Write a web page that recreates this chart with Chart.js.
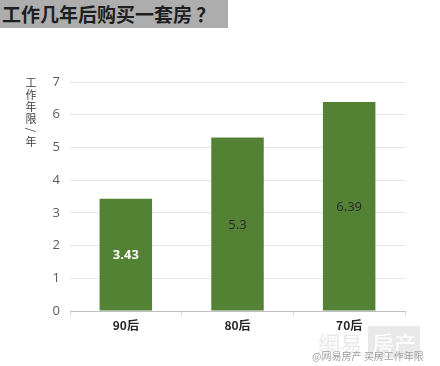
<!DOCTYPE html>
<html>
<head>
<meta charset="utf-8">
<script src="https://cdn.jsdelivr.net/npm/chart.js@4"></script>
<style>
  html, body { margin: 0; padding: 0; background: #fff; }
  #wrap { position: relative; width: 440px; height: 366px; }
  #title {
    position: absolute; left: 0; top: 0; width: 228px; height: 28px;
    background: #adadad; color: #1f1f1f;
    font: bold 19px "Noto Sans CJK SC", sans-serif; line-height: 28px;
    padding-left: 2px; box-sizing: border-box; white-space: nowrap;
  }
  #mark {
    position: absolute; left: 318px; top: 326px;
    font: 22px "Noto Sans CJK TC", sans-serif; color: rgba(200,200,200,0.4);
  }
  #mark span { background: rgba(200,200,200,0.4); color: #fff; padding: 0 4px; margin-left: 6px; }
  #weibo {
    position: absolute; left: 312px; top: 348px;
    font: 10px "Noto Sans CJK SC", sans-serif; color: #a0a0a0; white-space: nowrap;
  }
</style>
</head>
<body>
<div id="wrap">
  <canvas id="chart" width="440" height="366"></canvas>
  <div id="title">工作几年后购买一套房 ？</div>
  <div id="mark">網易<span>房产</span></div>
  <div id="weibo">@网易房产 买房工作年限</div>
</div>
<script>
const categories = ["90后", "80后", "70后"];
const years = [3.43, 5.3, 6.39];
const yTicks = [0, 1, 2, 3, 4, 5, 6, 7];
const yTitle = "工作年限/年";

// 柱子里的数值标签
const valueLabels = {
  id: "valueLabels",
  afterDatasetsDraw(chart) {
    const { ctx } = chart;
    const meta = chart.getDatasetMeta(0);
    meta.data.forEach((bar, i) => {
      const mid = (bar.y + bar.base) / 2;
      ctx.save();
      ctx.textAlign = "center";
      ctx.textBaseline = "middle";
      if (i === 0) {
        ctx.fillStyle = "#ffffff";
        ctx.font = "bold 13px 'Open Sans', sans-serif";
      } else {
        ctx.fillStyle = "#2b2b2b";
        ctx.font = "13px 'Open Sans', sans-serif";
      }
      ctx.fillText(String(years[i]), bar.x, mid + 1);
      ctx.restore();
    });
  }
};

// 纵向竖排的轴标题
const verticalTitle = {
  id: "verticalTitle",
  afterDraw(chart) {
    const { ctx } = chart;
    ctx.save();
    ctx.fillStyle = "#404040";
    ctx.font = "11px 'Noto Sans CJK SC', sans-serif";
    ctx.textAlign = "center";
    ctx.textBaseline = "middle";
    let y = 83;
    for (const ch of yTitle) {
      if (ch === "/") {
        ctx.save();
        ctx.translate(31, y - 1);
        ctx.rotate(Math.PI / 2);
        ctx.fillText(ch, 0, 0);
        ctx.restore();
        y += 11;
      } else {
        ctx.fillText(ch, 31, y);
        y += 12;
      }
    }
    ctx.restore();
  }
};

new Chart(document.getElementById("chart"), {
  type: "bar",
  data: {
    labels: categories,
    datasets: [{
      data: years,
      backgroundColor: "#548235",
      categoryPercentage: 1,
      barPercentage: 0.47
    }]
  },
  options: {
    responsive: false,
    animation: false,
    layout: { padding: { top: 82, right: 35, left: 0, bottom: 0 } },
    plugins: { legend: { display: false }, tooltip: { enabled: false } },
    scales: {
      x: {
        afterFit(scale) { scale.height = 55; },
        grid: { display: true, drawOnChartArea: false, drawTicks: true, tickLength: 5, color: "#d9d9d9" },
        border: { color: "#bfbfbf" },
        ticks: { color: "#262626", font: { size: 12, weight: "bold", family: "'Noto Sans CJK SC', sans-serif" }, padding: 2 }
      },
      y: {
        min: 0,
        max: 7,
        afterFit(scale) { scale.width = 70; },
        afterBuildTicks(scale) { scale.ticks = yTicks.map(v => ({ value: v })); },
        grid: { color: "#e6e6e6", drawTicks: false },
        border: { display: false },
        ticks: { color: "#595959", font: { size: 13, family: "'Open Sans', sans-serif" }, padding: 10 }
      }
    }
  },
  plugins: [valueLabels, verticalTitle]
});
</script>
</body>
</html>
